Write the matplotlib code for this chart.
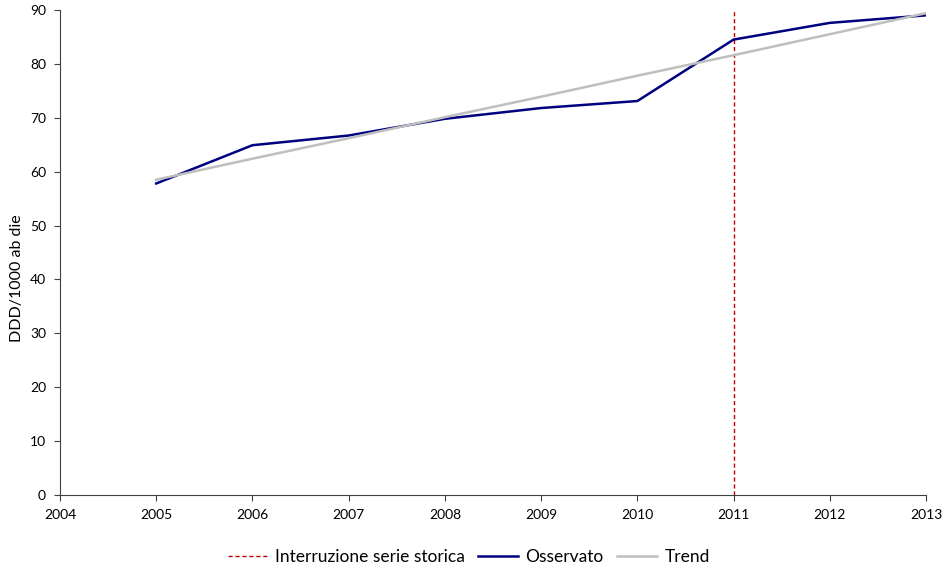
import matplotlib
matplotlib.use("Agg")
import matplotlib.pyplot as plt

anni = [2005, 2006, 2007, 2008, 2009, 2010, 2011, 2012, 2013]
osservato = [57.8, 64.9, 66.7, 69.8, 71.8, 73.1, 84.5, 87.6, 89.0]
trend = [58.5, 62.4, 66.2, 70.1, 73.9, 77.8, 81.6, 85.5, 89.4]
anno_interruzione = 2011
xticks = list(range(2004, 2014))
yticks = list(range(0, 100, 10))

plt.rcParams['font.family'] = ['Lato', 'DejaVu Sans']

fig = plt.figure(figsize=(9.46, 5.68), dpi=100)
ax = fig.add_axes([0.0634, 0.1285, 0.9155, 0.854])

ax.plot([anno_interruzione, anno_interruzione], [0, 90], color='#C00000',
        lw=1.0, dashes=(3, 2), label='Interruzione serie storica')
ax.plot(anni, osservato, color='#000080', lw=1.8, label='Osservato')
ax.plot(anni, trend, color='#BFBFBF', lw=1.8, label='Trend')

ax.set_xlim(2004, 2013)
ax.set_ylim(0, 90)
ax.set_xticks(xticks)
ax.set_yticks(yticks)
ax.tick_params(labelsize=10, direction='out', length=4, color='#404040', pad=6)
ax.spines['top'].set_visible(False)
ax.spines['right'].set_visible(False)
for s in ['left', 'bottom']:
    ax.spines[s].set_color('#404040')
ax.set_ylabel('DDD/1000 ab die', fontsize=11.5)
ax.yaxis.set_label_coords(-0.041, 0.447)

ax.legend(loc='center', bbox_to_anchor=(0.472, -0.128), ncol=3, frameon=False,
          fontsize=12.5, handlelength=2.3, columnspacing=0.8, handletextpad=0.4)

fig.savefig('out.png', dpi=100)
